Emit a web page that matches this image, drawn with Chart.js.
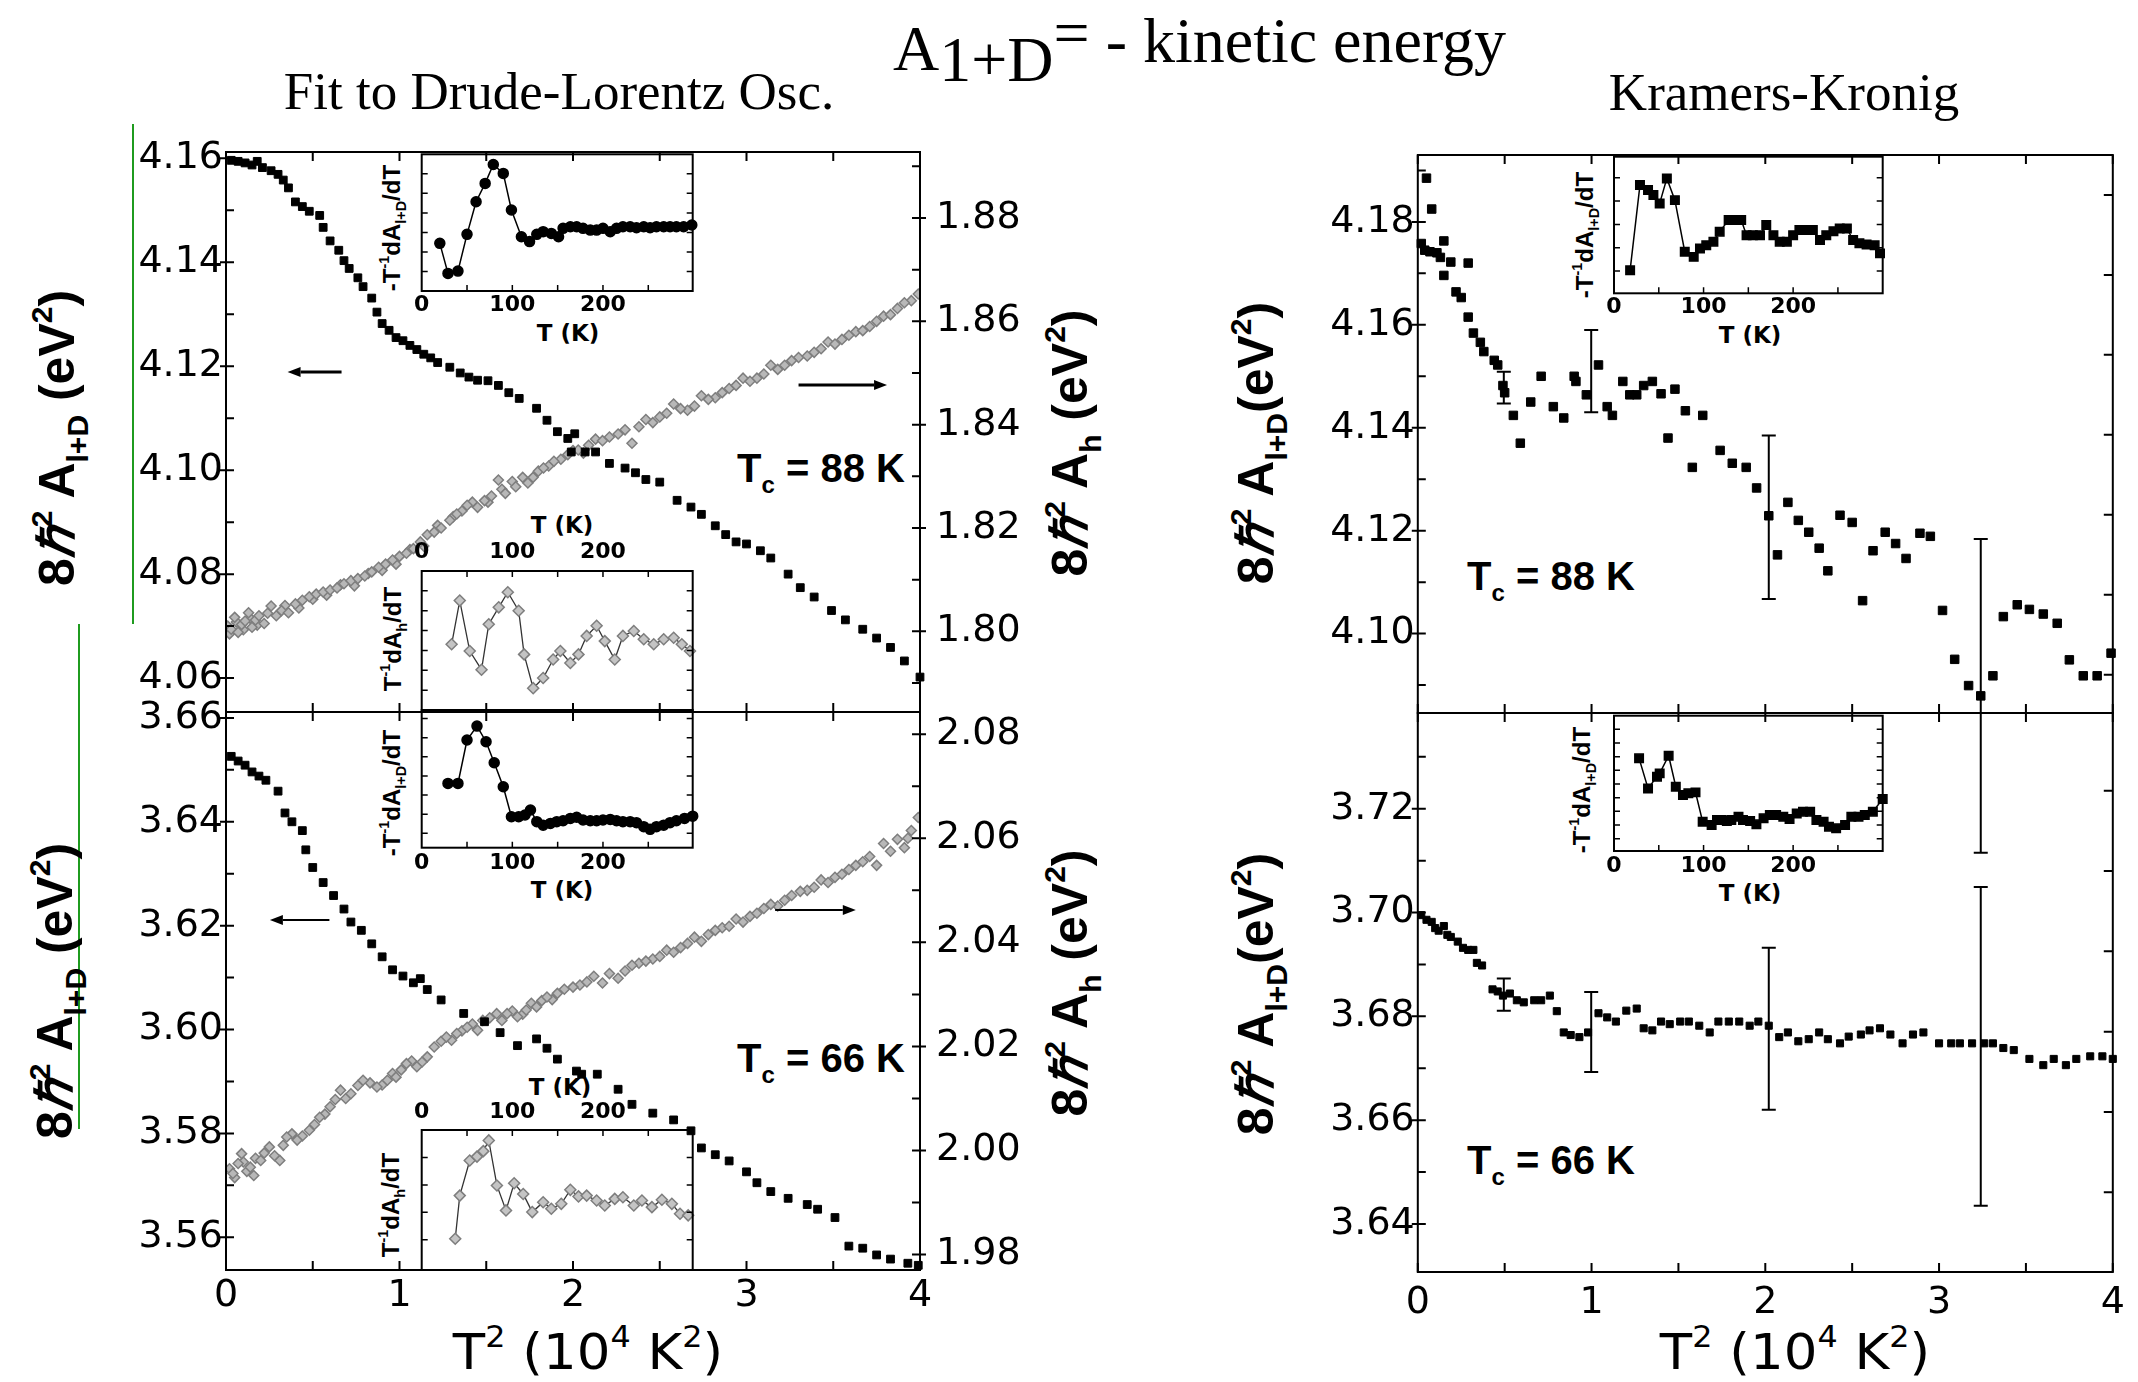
<!DOCTYPE html>
<html><head><meta charset="utf-8">
<script src="https://cdn.jsdelivr.net/npm/chart.js@4.4.1/dist/chart.umd.min.js"></script>
<style>
html,body{margin:0;padding:0;background:#fff;}
body{width:2138px;height:1382px;position:relative;overflow:hidden;}
canvas{position:absolute;}
.t{position:absolute;white-space:nowrap;line-height:1;color:#000;}
.rot{transform:translate(-50%,-50%) rotate(-90deg);}
.ctr{transform:translate(-50%,-50%);}
.yt{font:bold 50px 'Liberation Sans',Arial,sans-serif;}
.it{font:bold 24px 'Liberation Sans',Arial,sans-serif;}
.tk{font:bold 23px 'DejaVu Sans',sans-serif;}
.tc{font:bold 40px 'Liberation Sans',Arial,sans-serif;}
.xt{font:50px 'DejaVu Sans',sans-serif;transform:translate(-50%,-50%) scaleX(1.06);}
.sp{font-size:.6em;position:relative;top:-.75em;}
.sb{font-size:.6em;position:relative;top:.45em;}
.gl{position:absolute;width:2px;background:#1f9b1f;}
</style></head><body>

<div class="t" style="left:893px;top:12px;font:64px 'Liberation Serif',serif;">A<span style="position:relative;top:11px">1+D</span><span style="position:relative;top:-16px">=</span><span style="position:relative;top:-8px"> - kinetic energy</span></div>
<div class="t" style="left:559px;top:61px;font:53px 'Liberation Serif',serif;transform:translateX(-50%)">Fit to Drude-Lorentz Osc.</div>
<div class="t" style="left:1784px;top:62px;font:53px 'Liberation Serif',serif;transform:translateX(-50%)">Kramers-Kronig</div>

<div class="gl" style="left:132px;top:124px;height:500px"></div>
<div class="gl" style="left:78px;top:624px;height:505px"></div>

<div class="t rot yt" style="left:55px;top:438px">8<i>ℏ</i><span class="sp">2</span> A<span class="sb">l+D</span> (eV<span class="sp">2</span>)</div>
<div class="t rot yt" style="left:1068px;top:443px">8<i>ℏ</i><span class="sp">2</span> A<span class="sb">h</span> (eV<span class="sp">2</span>)</div>
<div class="t rot yt" style="left:53px;top:991px">8<i>ℏ</i><span class="sp">2</span> A<span class="sb">l+D</span> (eV<span class="sp">2</span>)</div>
<div class="t rot yt" style="left:1068px;top:983px">8<i>ℏ</i><span class="sp">2</span> A<span class="sb">h</span> (eV<span class="sp">2</span>)</div>
<div class="t rot yt" style="left:1254px;top:443px">8<i>ℏ</i><span class="sp">2</span> A<span class="sb">l+D</span>(eV<span class="sp">2</span>)</div>
<div class="t rot yt" style="left:1254px;top:994px">8<i>ℏ</i><span class="sp">2</span> A<span class="sb">l+D</span>(eV<span class="sp">2</span>)</div>

<div class="t xt" style="left:588px;top:1352px">T<span class="sp">2</span> (10<span class="sp">4</span> K<span class="sp">2</span>)</div>
<div class="t xt" style="left:1795px;top:1352px">T<span class="sp">2</span> (10<span class="sp">4</span> K<span class="sp">2</span>)</div>

<div class="t tc" style="left:737px;top:446px">T<span class="sb">c</span> = 88 K</div>
<div class="t tc" style="left:737px;top:1036px">T<span class="sb">c</span> = 66 K</div>
<div class="t tc" style="left:1467px;top:554px">T<span class="sb">c</span> = 88 K</div>
<div class="t tc" style="left:1467px;top:1138px">T<span class="sb">c</span> = 66 K</div>

<div class="t rot it" style="left:392px;top:228px">-T<span class="sp">-1</span>dA<span class="sb">l+D</span>/dT</div>
<div class="t rot it" style="left:393px;top:639px">T<span class="sp">-1</span>dA<span class="sb">h</span>/dT</div>
<div class="t rot it" style="left:392px;top:793px">-T<span class="sp">-1</span>dA<span class="sb">l+D</span>/dT</div>
<div class="t rot it" style="left:391px;top:1205px">T<span class="sp">-1</span>dA<span class="sb">h</span>/dT</div>
<div class="t rot it" style="left:1585px;top:235px">-T<span class="sp">-1</span>dA<span class="sb">l+D</span>/dT</div>
<div class="t rot it" style="left:1582px;top:790px">-T<span class="sp">-1</span>dA<span class="sb">l+D</span>/dT</div>

<div class="t ctr tk" style="left:568px;top:333px">T (K)</div>
<div class="t ctr tk" style="left:562px;top:525px">T (K)</div>
<div class="t ctr tk" style="left:562px;top:890px">T (K)</div>
<div class="t ctr tk" style="left:560px;top:1087px">T (K)</div>
<div class="t ctr tk" style="left:1750px;top:335px">T (K)</div>
<div class="t ctr tk" style="left:1750px;top:893px">T (K)</div>

<script>
// ================= DATA =================
// Tick labels
const X_TICKS = [0,1,2,3,4];
const LT_Y_TICKS = [4.06,4.08,4.10,4.12,4.14,4.16];
const LT_Y2_TICKS = [1.80,1.82,1.84,1.86,1.88];
const LB_Y_TICKS = [3.56,3.58,3.60,3.62,3.64,3.66];
const LB_Y2_TICKS = [1.98,2.00,2.02,2.04,2.06,2.08];
const RT_Y_TICKS = [4.10,4.12,4.14,4.16,4.18];
const RB_Y_TICKS = [3.64,3.66,3.68,3.70,3.72];
const INSET_T_TICKS = [0,100,200];

// Left top (Tc = 88 K, Drude-Lorentz fit): A_l+D (left axis)
const LT_X = [0.03,0.07,0.11,0.15,0.18,0.21,0.26,0.30,0.33,0.36,0.40,0.44,0.48,0.54,0.56,0.60,0.65,0.68,0.71,0.76,0.79,0.84,0.87,0.90,0.94,0.98,1.02,1.06,1.10,1.14,1.18,1.22,1.29,1.35,1.40,1.45,1.51,1.57,1.63,1.69,1.79,1.85,1.91,1.97,2.01,1.99,2.07,2.13,2.21,2.30,2.36,2.42,2.50,2.60,2.68,2.74,2.82,2.88,2.94,3.00,3.08,3.14,3.24,3.31,3.39,3.49,3.57,3.67,3.75,3.83,3.91,4.00,4.08];
const LT_Y = [4.1596,4.1594,4.1591,4.1587,4.1594,4.1582,4.1576,4.1569,4.1558,4.1543,4.1516,4.1507,4.1498,4.1490,4.1467,4.1441,4.1423,4.1403,4.1388,4.1370,4.1353,4.1331,4.1304,4.1282,4.1269,4.1255,4.1249,4.1240,4.1232,4.1223,4.1216,4.1207,4.1198,4.1187,4.1179,4.1173,4.1172,4.1163,4.1149,4.1138,4.1119,4.1096,4.1074,4.1061,4.1070,4.1035,4.1035,4.1035,4.1013,4.1004,4.0995,4.0982,4.0977,4.0942,4.0929,4.0915,4.0893,4.0876,4.0862,4.0858,4.0845,4.0831,4.0800,4.0774,4.0756,4.0730,4.0712,4.0694,4.0677,4.0659,4.0633,4.0602,4.0584];
// Left top: A_h (right axis), two interleaved bands of points
const LT_HX = [0.01,0.03,0.05,0.07,0.09,0.11,0.13,0.15,0.17,0.19,0.22,0.26,0.29,0.32,0.36,0.40,0.44,0.48,0.52,0.56,0.60,0.64,0.68,0.72,0.76,0.80,0.84,0.88,0.92,0.96,1.00,1.04,1.08,1.12,1.16,1.20,1.24,1.29,1.33,1.39,1.45,1.49,1.53,1.57,1.61,1.67,1.71,1.77,1.83,1.89,1.97,2.03,2.09,2.17,2.26,2.34,2.38,2.46,2.54,2.62,2.70,2.78,2.86,2.94,3.02,3.10,3.18,3.26,3.35,3.43,3.51,3.59,3.67,3.75,3.83,3.91,3.99,4.03];
const LT_HY = [1.8010,1.8004,1.8027,1.7998,1.8013,1.8020,1.8036,1.8008,1.8022,1.8030,1.8015,1.8049,1.8030,1.8040,1.8036,1.8053,1.8060,1.8067,1.8072,1.8076,1.8080,1.8084,1.8092,1.8098,1.8102,1.8107,1.8115,1.8124,1.8130,1.8138,1.8145,1.8151,1.8160,1.8173,1.8187,1.8192,1.8200,1.8215,1.8227,1.8244,1.8240,1.8253,1.8262,1.8293,1.8267,1.8280,1.8298,1.8298,1.8316,1.8329,1.8342,1.8351,1.8360,1.8369,1.8382,1.8364,1.8396,1.8404,1.8422,1.8431,1.8436,1.8449,1.8462,1.8476,1.8484,1.8498,1.8507,1.8524,1.8533,1.8547,1.8556,1.8573,1.8582,1.8600,1.8613,1.8636,1.8653,1.8680];
const LT_HX2 = [0.02,0.06,0.10,0.14,0.18,0.24,0.34,0.42,0.50,0.58,0.66,0.74,0.82,0.90,0.98,1.06,1.14,1.22,1.31,1.36,1.42,1.51,1.59,1.65,1.74,1.80,1.86,1.93,2.00,2.06,2.13,2.21,2.30,2.42,2.50,2.58,2.66,2.74,2.82,2.90,2.98,3.06,3.14,3.22,3.30,3.39,3.47,3.55,3.63,3.71,3.79,3.87,3.95];
const LT_HY2 = [1.7995,1.8018,1.8003,1.8025,1.8012,1.8035,1.8050,1.8045,1.8062,1.8070,1.8090,1.8088,1.8112,1.8118,1.8130,1.8158,1.8165,1.8205,1.8222,1.8233,1.8250,1.8250,1.8275,1.8290,1.8287,1.8310,1.8320,1.8333,1.8350,1.8345,1.8372,1.8376,1.8390,1.8410,1.8415,1.8440,1.8428,1.8456,1.8452,1.8470,1.8490,1.8490,1.8515,1.8515,1.8530,1.8540,1.8560,1.8565,1.8580,1.8590,1.8610,1.8625,1.8640];

// Left bottom (Tc = 66 K): A_l+D
const LB_X = [0.03,0.07,0.11,0.15,0.19,0.23,0.30,0.34,0.38,0.44,0.46,0.50,0.56,0.62,0.68,0.72,0.78,0.84,0.90,0.96,1.02,1.08,1.12,1.16,1.24,1.37,1.49,1.58,1.68,1.79,1.85,1.91,2.02,2.05,2.14,2.26,2.34,2.46,2.58,2.68,2.74,2.82,2.90,3.00,3.06,3.14,3.24,3.35,3.41,3.51,3.59,3.67,3.75,3.83,3.93,3.99];
const LB_Y = [3.6526,3.6517,3.6509,3.6496,3.6488,3.6480,3.6459,3.6417,3.6400,3.6383,3.6346,3.6312,3.6283,3.6258,3.6232,3.6207,3.6191,3.6165,3.6140,3.6115,3.6103,3.6090,3.6098,3.6077,3.6057,3.6031,3.6015,3.5994,3.5969,3.5982,3.5964,3.5943,3.5920,3.5914,3.5914,3.5885,3.5856,3.5839,3.5826,3.5805,3.5772,3.5759,3.5747,3.5726,3.5705,3.5688,3.5675,3.5663,3.5654,3.5638,3.5583,3.5579,3.5566,3.5558,3.5550,3.5546];
// Left bottom: A_h
const LB_HX = [0.04,0.07,0.09,0.12,0.14,0.17,0.20,0.25,0.31,0.35,0.41,0.48,0.54,0.60,0.66,0.72,0.79,0.87,0.93,0.98,1.04,1.10,1.16,1.20,1.27,1.33,1.39,1.45,1.48,1.56,1.62,1.68,1.73,1.79,1.85,1.91,2.00,2.08,2.17,2.26,2.34,2.42,2.50,2.58,2.66,2.74,2.82,2.90,2.98,3.06,3.14,3.22,3.31,3.39,3.47,3.55,3.63,3.71,3.75,3.79,3.87,3.91,3.95,3.99];
const LB_HY = [1.9956,1.9975,1.9994,1.9960,1.9968,1.9985,1.9981,2.0007,1.9981,2.0026,2.0020,2.0039,2.0064,2.0084,2.0116,2.0109,2.0135,2.0122,2.0135,2.0141,2.0167,2.0161,2.0180,2.0199,2.0218,2.0225,2.0237,2.0231,2.0250,2.0263,2.0263,2.0257,2.0270,2.0276,2.0295,2.0302,2.0314,2.0324,2.0322,2.0331,2.0356,2.0364,2.0373,2.0381,2.0398,2.0402,2.0423,2.0431,2.0439,2.0456,2.0473,2.0481,2.0498,2.0506,2.0515,2.0531,2.0548,2.0565,2.0548,2.0590,2.0598,2.0582,2.0615,2.0640];
const LB_HX2 = [0.02,0.05,0.10,0.16,0.22,0.28,0.33,0.38,0.44,0.51,0.57,0.63,0.69,0.76,0.83,0.90,0.96,1.01,1.07,1.13,1.24,1.30,1.36,1.42,1.52,1.59,1.65,1.71,1.76,1.82,1.88,1.95,2.04,2.12,2.21,2.30,2.38,2.46,2.54,2.62,2.70,2.78,2.86,2.94,3.02,3.10,3.18,3.26,3.35,3.43,3.51,3.59,3.67,3.83,3.93];
const LB_HY2 = [1.9965,1.9948,1.9978,1.9952,1.9995,1.9990,2.0010,2.0032,2.0028,2.0050,2.0070,2.0098,2.0100,2.0125,2.0130,2.0126,2.0148,2.0155,2.0172,2.0170,2.0210,2.0212,2.0230,2.0243,2.0255,2.0250,2.0268,2.0262,2.0283,2.0288,2.0290,2.0310,2.0318,2.0335,2.0340,2.0345,2.0360,2.0368,2.0385,2.0390,2.0410,2.0415,2.0428,2.0445,2.0450,2.0465,2.0470,2.0490,2.0500,2.0520,2.0525,2.0540,2.0555,2.0575,2.0600];

// Right top (Kramers-Kronig, Tc = 88 K)
const RT_X = [0.05,0.08,0.02,0.04,0.07,0.11,0.15,0.13,0.15,0.19,0.29,0.22,0.25,0.29,0.32,0.36,0.38,0.44,0.46,0.49,0.50,0.55,0.59,0.65,0.71,0.78,0.84,0.90,0.91,0.97,1.04,1.09,1.12,1.18,1.22,1.26,1.30,1.35,1.40,1.48,1.44,1.54,1.64,1.58,1.74,1.81,1.89,1.95,2.02,2.07,2.13,2.19,2.25,2.31,2.36,2.43,2.50,2.56,2.62,2.69,2.75,2.81,2.89,2.95,3.02,3.09,3.17,3.24,3.31,3.37,3.45,3.52,3.60,3.68,3.75,3.83,3.91,3.99,4.07];
const RT_Y = [4.1885,4.1825,4.1758,4.1745,4.1742,4.1740,4.1763,4.1731,4.1696,4.1722,4.1720,4.1664,4.1653,4.1615,4.1584,4.1566,4.1548,4.1531,4.1522,4.1482,4.1468,4.1424,4.1370,4.1450,4.1500,4.1441,4.1419,4.1500,4.1490,4.1464,4.1522,4.1441,4.1424,4.1490,4.1464,4.1464,4.1482,4.1490,4.1466,4.1475,4.1380,4.1433,4.1424,4.1323,4.1356,4.1331,4.1323,4.1283,4.1229,4.1153,4.1255,4.1220,4.1197,4.1166,4.1122,4.1230,4.1216,4.1064,4.1161,4.1197,4.1175,4.1146,4.1195,4.1189,4.1045,4.0950,4.0899,4.0879,4.0918,4.1033,4.1056,4.1047,4.1038,4.1020,4.0949,4.0918,4.0918,4.0962,4.1004];
const RT_ERR_X = [0.495,0.998,2.02,3.24];
const RT_ERR_Y = [4.1478,4.1510,4.1226,4.0879];
const RT_ERR_H = [0.0031,0.0080,0.0159,0.0305];

// Right bottom (Kramers-Kronig, Tc = 66 K)
const RB_X = [0.02,0.05,0.08,0.10,0.12,0.15,0.17,0.19,0.23,0.26,0.29,0.32,0.34,0.37,0.43,0.46,0.49,0.53,0.57,0.61,0.67,0.71,0.76,0.80,0.84,0.88,0.93,0.98,1.04,1.09,1.14,1.20,1.26,1.30,1.35,1.40,1.45,1.51,1.56,1.62,1.68,1.73,1.79,1.85,1.91,1.96,2.02,2.08,2.13,2.19,2.25,2.31,2.36,2.43,2.48,2.55,2.60,2.66,2.72,2.79,2.85,2.91,3.00,3.07,3.12,3.19,3.26,3.31,3.37,3.43,3.52,3.60,3.66,3.73,3.79,3.87,3.94,4.00];
const RB_Y = [3.6995,3.6986,3.6982,3.6970,3.6965,3.6974,3.6957,3.6953,3.6944,3.6932,3.6928,3.6928,3.6903,3.6898,3.6852,3.6848,3.6840,3.6844,3.6831,3.6827,3.6831,3.6831,3.6840,3.6810,3.6769,3.6764,3.6760,3.6769,3.6806,3.6798,3.6790,3.6811,3.6815,3.6777,3.6773,3.6790,3.6785,3.6790,3.6790,3.6782,3.6769,3.6790,3.6790,3.6790,3.6782,3.6790,3.6782,3.6760,3.6769,3.6752,3.6756,3.6769,3.6756,3.6748,3.6761,3.6765,3.6773,3.6777,3.6765,3.6748,3.6765,3.6769,3.6748,3.6748,3.6748,3.6748,3.6748,3.6748,3.6739,3.6735,3.6718,3.6706,3.6718,3.6706,3.6718,3.6723,3.6723,3.6718];
const RB_ERR_X = [0.495,0.998,2.02,3.24];
const RB_ERR_Y = [3.6842,3.6770,3.6776,3.6742];
const RB_ERR_H = [0.0031,0.0077,0.0156,0.0307];

// Insets: temperature T (K) and derivative (arbitrary units)
const I1_T = [20,29,40,50,60,70,79,90,99,110,119,127,134,143,151,156,164,171,178,186,193,200,208,215,222,230,237,245,252,259,267,274,281,289,298];
const I1_V = [2.44,0.90,1.02,2.90,4.57,5.51,6.48,6.02,4.15,2.78,2.53,2.90,3.04,2.95,2.78,3.21,3.29,3.29,3.21,3.12,3.12,3.21,3.04,3.21,3.29,3.29,3.24,3.29,3.24,3.29,3.29,3.29,3.29,3.29,3.38];
const I2_T = [33,42,53,66,74,85,95,107,113,123,134,145,153,164,173,182,193,202,213,222,234,245,256,267,278,287,296];
const I2_V = [3.31,5.51,2.97,2.03,4.32,5.17,5.93,5.00,2.80,1.10,1.61,2.54,2.97,2.37,2.80,3.73,4.24,3.47,2.54,3.73,3.98,3.56,3.31,3.56,3.64,3.31,2.97];
const I3_T = [29,40,50,61,71,80,90,99,107,114,120,127,134,142,149,156,164,171,178,186,193,200,208,215,222,230,237,245,252,259,267,274,281,290,299];
const I3_V = [2.61,2.61,4.88,5.61,4.79,3.69,2.44,0.87,0.87,0.96,1.22,0.61,0.43,0.52,0.61,0.66,0.78,0.84,0.70,0.66,0.66,0.70,0.73,0.66,0.61,0.61,0.56,0.35,0.21,0.35,0.43,0.56,0.66,0.78,0.90];
const I4_T = [37,42,53,61,68,74,83,93,102,112,122,134,143,154,164,173,182,193,202,213,222,234,243,254,265,276,285,294];
const I4_V = [0.04,1.61,2.89,3.03,3.23,3.62,1.98,1.07,2.06,1.67,1.01,1.37,1.13,1.31,1.82,1.58,1.61,1.43,1.25,1.49,1.55,1.25,1.43,1.19,1.46,1.31,0.95,0.89];
const I5_T = [18,29,38,44,51,59,68,79,89,96,103,111,118,128,135,142,148,155,163,170,178,185,193,200,207,215,222,230,237,245,252,260,267,274,282,291,297];
const I5_V = [0.04,3.69,3.47,3.26,2.90,3.97,3.04,0.83,0.61,0.97,1.11,1.26,1.69,2.19,2.19,2.19,1.54,1.54,1.54,1.97,1.54,1.26,1.26,1.54,1.76,1.76,1.76,1.33,1.54,1.71,1.83,1.83,1.33,1.19,1.14,1.11,0.76];
const I6_T = [28,38,48,51,61,69,77,83,91,99,109,115,120,126,131,139,144,152,159,167,174,181,189,196,204,211,219,226,234,240,248,258,265,273,280,289,300];
const I6_V = [5.88,3.68,4.54,4.78,6.07,3.80,3.20,3.32,3.39,1.24,1.00,1.37,1.37,1.29,1.37,1.61,1.37,1.29,1.05,1.49,1.73,1.73,1.61,1.44,1.85,1.98,1.98,1.37,1.24,0.88,0.76,1.00,1.61,1.61,1.73,1.98,2.90];

// ================= HELPERS =================
const pts = (xs, ys) => xs.map((x, i) => ({x: x, y: ys[i]}));
const F38 = {family: 'DejaVu Sans', size: 38};
const FIN = {family: 'DejaVu Sans', size: 22, weight: 'bold'};

const framePlugin = {
  id: 'frame',
  afterDatasetsDraw(chart, args, o) {
    const ctx = chart.ctx, a = chart.chartArea;
    ctx.save();
    ctx.strokeStyle = '#000';
    ctx.lineWidth = o.lw || 2;
    ctx.strokeRect(a.left, a.top, a.right - a.left, a.bottom - a.top);
    ctx.lineWidth = o.tw || 2;
    (o.marks || []).forEach(m => {
      const s = chart.scales[m.scale];
      const n = Math.round((m.to - m.from) / m.step);
      ctx.beginPath();
      for (let i = 0; i <= n; i++) {
        const v = m.from + i * m.step;
        const p = s.getPixelForValue(v);
        let isMajor = false;
        if (m.major) { const q = v / m.major; isMajor = Math.abs(q - Math.round(q)) < 1e-6; }
        const inn = m.len, out = isMajor ? (m.out || 0) : 0;
        m.sides.forEach(sd => {
          if (sd === 'left') { ctx.moveTo(a.left - out, p); ctx.lineTo(a.left + inn, p); }
          if (sd === 'right') { ctx.moveTo(a.right + out, p); ctx.lineTo(a.right - inn, p); }
          if (sd === 'top') { ctx.moveTo(p, a.top - out); ctx.lineTo(p, a.top + inn); }
          if (sd === 'bottom') { ctx.moveTo(p, a.bottom + out); ctx.lineTo(p, a.bottom - inn); }
        });
      }
      ctx.stroke();
    });
    ctx.restore();
  }
};

const arrowPlugin = {
  id: 'arrows',
  afterDatasetsDraw(chart, args, o) {
    const ctx = chart.ctx;
    (o.list || []).forEach(ar => {
      const sx = chart.scales.x, sy = chart.scales[ar.scale];
      const x1 = sx.getPixelForValue(ar.from), x2 = sx.getPixelForValue(ar.to), y = sy.getPixelForValue(ar.y);
      const d = Math.sign(x2 - x1), hl = 13, hw = 5;
      ctx.save();
      ctx.strokeStyle = '#000'; ctx.fillStyle = '#000'; ctx.lineWidth = ar.lw;
      ctx.beginPath(); ctx.moveTo(x1, y); ctx.lineTo(x2 - d * hl, y); ctx.stroke();
      ctx.beginPath(); ctx.moveTo(x2, y); ctx.lineTo(x2 - d * hl, y - hw); ctx.lineTo(x2 - d * hl, y + hw); ctx.closePath(); ctx.fill();
      ctx.restore();
    });
  }
};

const errPlugin = {
  id: 'errbars',
  afterDatasetsDraw(chart, args, o) {
    if (!o.xs) return;
    const ctx = chart.ctx, sx = chart.scales.x, sy = chart.scales.y;
    ctx.save();
    ctx.strokeStyle = '#000'; ctx.lineWidth = 2;
    ctx.beginPath();
    o.xs.forEach((x, i) => {
      const px = sx.getPixelForValue(x);
      const y1 = sy.getPixelForValue(o.ys[i] - o.hs[i]);
      const y2 = sy.getPixelForValue(o.ys[i] + o.hs[i]);
      ctx.moveTo(px, y1); ctx.lineTo(px, y2);
      ctx.moveTo(px - 7, y1); ctx.lineTo(px + 7, y1);
      ctx.moveTo(px - 7, y2); ctx.lineTo(px + 7, y2);
    });
    ctx.stroke();
    ctx.restore();
  }
};

// Linear axis with a fixed box size (so that the plot area lands exactly where wanted)
function lin(o) {
  const size = o.labels ? (o.size || 110) : 0;
  const s = {
    type: 'linear', position: o.pos, min: o.min, max: o.max, display: true,
    _sz: size,
    grid: {display: false, drawTicks: false}, border: {display: false},
    afterFit: sc => { if (sc.isHorizontal()) sc.height = size; else sc.width = size; },
    ticks: {display: !!o.labels, padding: o.pad || 0, color: '#000', font: o.font || F38,
      maxRotation: 0, minRotation: 0, autoSkip: false, callback: o.fmt || (v => String(v))}
  };
  if (o.labels) s.afterBuildTicks = sc => { sc.ticks = o.labels.map(v => ({value: v})); };
  return s;
}
const f2 = v => v.toFixed(2);

function mk(box, area, cfg) {
  const c = document.createElement('canvas');
  c.width = box.w; c.height = box.h;
  c.style.left = box.x + 'px'; c.style.top = box.y + 'px';
  c.style.width = box.w + 'px'; c.style.height = box.h + 'px';
  document.body.appendChild(c);
  let L = 0, R = 0, T = 0, B = 0;
  Object.values(cfg.options.scales).forEach(s => {
    const z = s._sz || 0;
    if (s.position === 'left') L += z; else if (s.position === 'right') R += z;
    else if (s.position === 'top') T += z; else B += z;
  });
  cfg.options.layout = {padding: {left: area.l - box.x - L, top: area.t - box.y - T,
    right: box.x + box.w - area.r - R, bottom: box.y + box.h - area.b - B}};
  cfg.options.responsive = false;
  cfg.options.animation = false;
  cfg.options.events = [];
  cfg.options.devicePixelRatio = 1;
  cfg.options.plugins = Object.assign({legend: {display: false}, tooltip: {enabled: false}}, cfg.options.plugins || {});
  cfg.plugins = [framePlugin, arrowPlugin, errPlugin];
  return new Chart(c, cfg);
}

const BLACK = {pointStyle: 'rect', pointRadius: 5.5, pointBackgroundColor: '#000', pointBorderColor: '#000', pointBorderWidth: 1};
const GRAY = {pointStyle: 'rectRot', pointRadius: 5, pointBackgroundColor: '#b8b8b8', pointBorderColor: '#7e7e7e', pointBorderWidth: 1.5};

// ================= MAIN CHARTS =================
// Left top
mk({x: 0, y: 100, w: 1110, h: 660}, {l: 226, t: 152, r: 920, b: 712}, {
  type: 'scatter',
  data: {datasets: [
    Object.assign({data: pts(LT_X, LT_Y), yAxisID: 'y', clip: false}, BLACK),
    Object.assign({data: pts(LT_HX, LT_HY), yAxisID: 'y2'}, GRAY),
    Object.assign({data: pts(LT_HX2, LT_HY2), yAxisID: 'y2'}, GRAY)
  ]},
  options: {
    scales: {
      x: lin({pos: 'bottom', min: 0, max: 4}),
      y: lin({pos: 'left', min: 4.05348, max: 4.1612, labels: LT_Y_TICKS, fmt: f2, pad: 3}),
      y2: lin({pos: 'right', min: 1.78438, max: 1.89278, labels: LT_Y2_TICKS, fmt: f2, pad: 16})
    },
    plugins: {
      frame: {marks: [
        {scale: 'x', from: 0, to: 4, step: 0.5, sides: ['top', 'bottom'], len: 9},
        {scale: 'y', from: 4.06, to: 4.16, step: 0.01, major: 0.02, sides: ['left'], len: 8, out: 6},
        {scale: 'y2', from: 1.79, to: 1.89, step: 0.01, major: 0.02, sides: ['right'], len: 8, out: 6}
      ]},
      arrows: {list: [
        {from: 0.666, to: 0.355, y: 4.1189, scale: 'y', lw: 3},
        {from: 3.30, to: 3.81, y: 1.8477, scale: 'y2', lw: 3}
      ]}
    }
  }
});

// Left bottom
mk({x: 0, y: 660, w: 1110, h: 722}, {l: 226, t: 712, r: 920, b: 1270}, {
  type: 'scatter',
  data: {datasets: [
    Object.assign({data: pts(LB_X, LB_Y), yAxisID: 'y', clip: false}, BLACK),
    Object.assign({data: pts(LB_HX, LB_HY), yAxisID: 'y2'}, GRAY),
    Object.assign({data: pts(LB_HX2, LB_HY2), yAxisID: 'y2'}, GRAY)
  ]},
  options: {
    scales: {
      x: lin({pos: 'bottom', min: 0, max: 4, labels: X_TICKS, pad: 3, size: 60}),
      y: lin({pos: 'left', min: 3.5537, max: 3.66114, labels: LB_Y_TICKS, fmt: f2, pad: 3}),
      y2: lin({pos: 'right', min: 1.97704, max: 2.08427, labels: LB_Y2_TICKS, fmt: f2, pad: 16})
    },
    plugins: {
      frame: {marks: [
        {scale: 'x', from: 0, to: 4, step: 0.5, sides: ['top', 'bottom'], len: 9},
        {scale: 'y', from: 3.56, to: 3.66, step: 0.01, major: 0.02, sides: ['left'], len: 8, out: 6},
        {scale: 'y2', from: 1.98, to: 2.08, step: 0.01, major: 0.02, sides: ['right'], len: 8, out: 6}
      ]},
      arrows: {list: [
        {from: 0.596, to: 0.253, y: 3.6211, scale: 'y', lw: 2},
        {from: 3.165, to: 3.63, y: 2.0462, scale: 'y2', lw: 2}
      ]}
    }
  }
});

// Right top
mk({x: 1280, y: 100, w: 858, h: 800}, {l: 1417.8, t: 155, r: 2112.8, b: 713}, {
  type: 'scatter',
  data: {datasets: [
    Object.assign({data: pts(RT_X, RT_Y), yAxisID: 'y', clip: false}, BLACK, {pointRadius: 6})
  ]},
  options: {
    scales: {
      x: lin({pos: 'bottom', min: 0, max: 4}),
      y: lin({pos: 'left', min: 4.08457, max: 4.193, labels: RT_Y_TICKS, fmt: f2, pad: 3}),
      y2: lin({pos: 'right', min: -0.48, max: 6.5})
    },
    plugins: {
      frame: {marks: [
        {scale: 'x', from: 0, to: 4, step: 0.5, sides: ['top', 'bottom'], len: 9},
        {scale: 'y', from: 4.09, to: 4.19, step: 0.01, major: 0.02, sides: ['left'], len: 8, out: 6},
        {scale: 'y2', from: 0, to: 6, step: 1, sides: ['right'], len: 9}
      ]},
      errbars: {xs: RT_ERR_X, ys: RT_ERR_Y, hs: RT_ERR_H}
    }
  }
});

// Right bottom
mk({x: 1280, y: 660, w: 858, h: 722}, {l: 1417.8, t: 713, r: 2112.8, b: 1272}, {
  type: 'scatter',
  data: {datasets: [
    Object.assign({data: pts(RB_X, RB_Y), yAxisID: 'y', clip: false}, BLACK, {pointRadius: 5})
  ]},
  options: {
    scales: {
      x: lin({pos: 'bottom', min: 0, max: 4, labels: X_TICKS, pad: 8, size: 60}),
      y: lin({pos: 'left', min: 3.63075, max: 3.73844, labels: RB_Y_TICKS, fmt: f2, pad: 3}),
      y2: lin({pos: 'right', min: -0.995, max: 5.97})
    },
    plugins: {
      frame: {marks: [
        {scale: 'x', from: 0, to: 4, step: 0.5, sides: ['top', 'bottom'], len: 9},
        {scale: 'y', from: 3.64, to: 3.73, step: 0.01, major: 0.02, sides: ['left'], len: 8, out: 6},
        {scale: 'y2', from: 0, to: 5, step: 1, sides: ['right'], len: 9}
      ]},
      errbars: {xs: RB_ERR_X, ys: RB_ERR_Y, hs: RB_ERR_H}
    }
  }
});

// ================= INSETS =================
function inset(box, area, T, V, o) {
  const black = {pointStyle: o.ps || 'circle', pointRadius: o.pr || 5, pointBackgroundColor: '#000', pointBorderColor: '#000', borderColor: '#000', borderWidth: 1.5};
  const gray = {pointStyle: 'rectRot', pointRadius: 5.5, pointBackgroundColor: '#c4c4c4', pointBorderColor: '#7e7e7e', pointBorderWidth: 1.5, borderColor: '#333', borderWidth: 1.3};
  mk(box, area, {
    type: 'scatter',
    data: {datasets: [Object.assign({data: pts(T, V), showLine: true, clip: false}, o.gray ? gray : black)]},
    options: {
      scales: {
        x: lin({pos: o.xpos, min: 0, max: o.tmax, labels: INSET_T_TICKS, pad: o.pad, font: FIN, size: 30}),
        y: lin({pos: 'left', min: o.ymin, max: o.ymax}),
      },
      plugins: {
        frame: {lw: 2, tw: 1.5, marks: [
          {scale: 'x', from: 50, to: 250, step: 50, sides: [o.xpos], len: 6},
          {scale: 'y', from: o.t0, to: o.t1, step: 1, sides: ['left', 'right'], len: 6}
        ]}
      }
    }
  });
}
inset({x: 330, y: 130, w: 400, h: 200}, {l: 421.7, t: 154.3, r: 692.7, b: 291}, I1_T, I1_V,
  {xpos: 'bottom', tmax: 299, pad: 1, ymin: 0, ymax: 7, t0: 1, t1: 6});
inset({x: 330, y: 500, w: 400, h: 230}, {l: 421.7, t: 571, r: 692.7, b: 710}, I2_T, I2_V,
  {gray: true, xpos: 'top', tmax: 299, pad: 6, ymin: 0, ymax: 7, t0: 1, t1: 6});
inset({x: 330, y: 690, w: 400, h: 200}, {l: 421.7, t: 710, r: 692.7, b: 847.7}, I3_T, I3_V,
  {xpos: 'bottom', tmax: 299, pad: 2, ymin: -0.75, ymax: 6.45, t0: 0, t1: 6});
inset({x: 330, y: 1070, w: 400, h: 230}, {l: 421.7, t: 1130, r: 692.7, b: 1270}, I4_T, I4_V,
  {gray: true, xpos: 'top', tmax: 299, pad: 5, ymin: -1.1, ymax: 4.0, t0: 0, t1: 3});
inset({x: 1530, y: 130, w: 400, h: 200}, {l: 1614, t: 156.7, r: 1882.7, b: 293.3}, I5_T, I5_V,
  {xpos: 'bottom', tmax: 300, pad: 1, ymin: -0.95, ymax: 4.9, t0: 0, t1: 4, ps: 'rect', pr: 6});
inset({x: 1530, y: 690, w: 400, h: 200}, {l: 1614, t: 715.7, r: 1882.7, b: 851}, I6_T, I6_V,
  {xpos: 'bottom', tmax: 300, pad: 2, ymin: -0.9, ymax: 9.0, t0: 0, t1: 8, ps: 'rect', pr: 6});
</script>
</body></html>
